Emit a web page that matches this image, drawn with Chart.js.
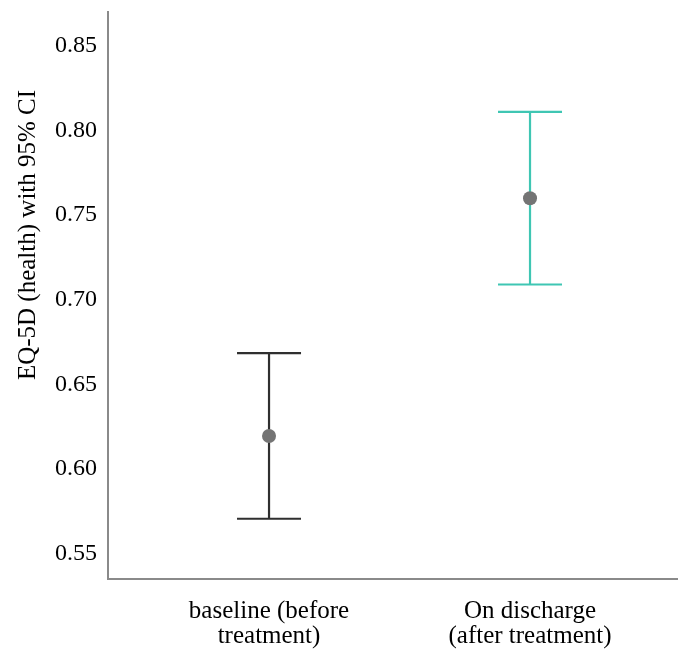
<!DOCTYPE html>
<html>
<head>
<meta charset="utf-8">
<script src="https://cdn.jsdelivr.net/npm/chart.js@4"></script>
<style>
  html, body { margin: 0; padding: 0; background: #fff; }
  #wrap { width: 678px; height: 650px; }
</style>
</head>
<body>
<div id="wrap"><canvas id="myChart" width="678" height="650"></canvas></div>
<script>
const categories = [["baseline (before", "treatment)"], ["On discharge", "(after treatment)"]];
const catPos = [1, 2];
const means = [0.6195, 0.760];
const lower = [0.5706, 0.709];
const upper = [0.6685, 0.811];
const barColors = ["#2f2f2f", "#3fc6b3"];
const yTicks = [0.55, 0.60, 0.65, 0.70, 0.75, 0.80, 0.85];
const yTitle = "EQ-5D (health) with 95% CI";

const serif = "'Liberation Serif', 'Times New Roman', serif";

const errorBars = {
  id: "errorBars",
  beforeDatasetsDraw(chart) {
    const ctx = chart.ctx;
    const xs = chart.scales.x, ys = chart.scales.y;
    ctx.save();
    ctx.lineWidth = 2.2;
    for (let i = 0; i < catPos.length; i++) {
      const x = xs.getPixelForValue(catPos[i]);
      const yl = ys.getPixelForValue(lower[i]);
      const yu = ys.getPixelForValue(upper[i]);
      ctx.strokeStyle = barColors[i];
      ctx.beginPath();
      ctx.moveTo(x, yu); ctx.lineTo(x, yl);
      ctx.moveTo(x - 32, yu); ctx.lineTo(x + 32, yu);
      ctx.moveTo(x - 32, yl); ctx.lineTo(x + 32, yl);
      ctx.stroke();
    }
    ctx.restore();
  },
  // axis title sits above the axis middle in the original, so draw it here
  afterDraw(chart) {
    const ctx = chart.ctx;
    ctx.save();
    ctx.translate(28, 235);
    ctx.rotate(-Math.PI / 2);
    ctx.font = "25px " + serif;
    ctx.fillStyle = "#000";
    ctx.textAlign = "center";
    ctx.textBaseline = "middle";
    ctx.fillText(yTitle, 0, 0);
    ctx.restore();
  }
};

const ctx = document.getElementById("myChart").getContext("2d");
const myChart = new Chart(ctx, {
  type: "scatter",
  data: {
    datasets: [{
      label: "Mean",
      data: catPos.map((x, i) => ({ x: x, y: means[i] })),
      pointRadius: 7,
      pointBackgroundColor: "#747474",
      pointBorderWidth: 0
    }]
  },
  options: {
    responsive: false,
    animation: false,
    layout: { autoPadding: false, padding: { top: 12, right: 0, left: 0, bottom: 0 } },
    plugins: { legend: { display: false }, tooltip: { enabled: false } },
    scales: {
      x: {
        type: "linear",
        min: 0.383,
        max: 2.567,
        afterBuildTicks(scale) { scale.ticks = catPos.map(v => ({ value: v })); },
        afterFit(scale) {
          scale.height = 71;
          scale.paddingLeft = 0;
          scale.paddingRight = 0;
        },
        grid: { display: false, tickLength: 0 },
        border: { display: true, color: "#8a8a8a", width: 2 },
        ticks: {
          color: "#000",
          font: { family: serif, size: 25, lineHeight: 1.0 },
          padding: 20,
          maxRotation: 0,
          callback: (v) => categories[catPos.indexOf(v)] || ""
        }
      },
      y: {
        min: 0.535,
        max: 0.870,
        afterBuildTicks(scale) { scale.ticks = yTicks.map(v => ({ value: v })); },
        afterFit(scale) {
          scale.width = 108;
          scale.paddingTop = 0;
          scale.paddingBottom = 0;
        },
        grid: { display: false, tickLength: 0 },
        border: { display: true, color: "#8a8a8a", width: 2 },
        ticks: {
          color: "#000",
          font: { family: serif, size: 24 },
          padding: 11,
          callback: (v) => v.toFixed(2)
        }
      }
    }
  },
  plugins: [errorBars]
});
</script>
</body>
</html>
